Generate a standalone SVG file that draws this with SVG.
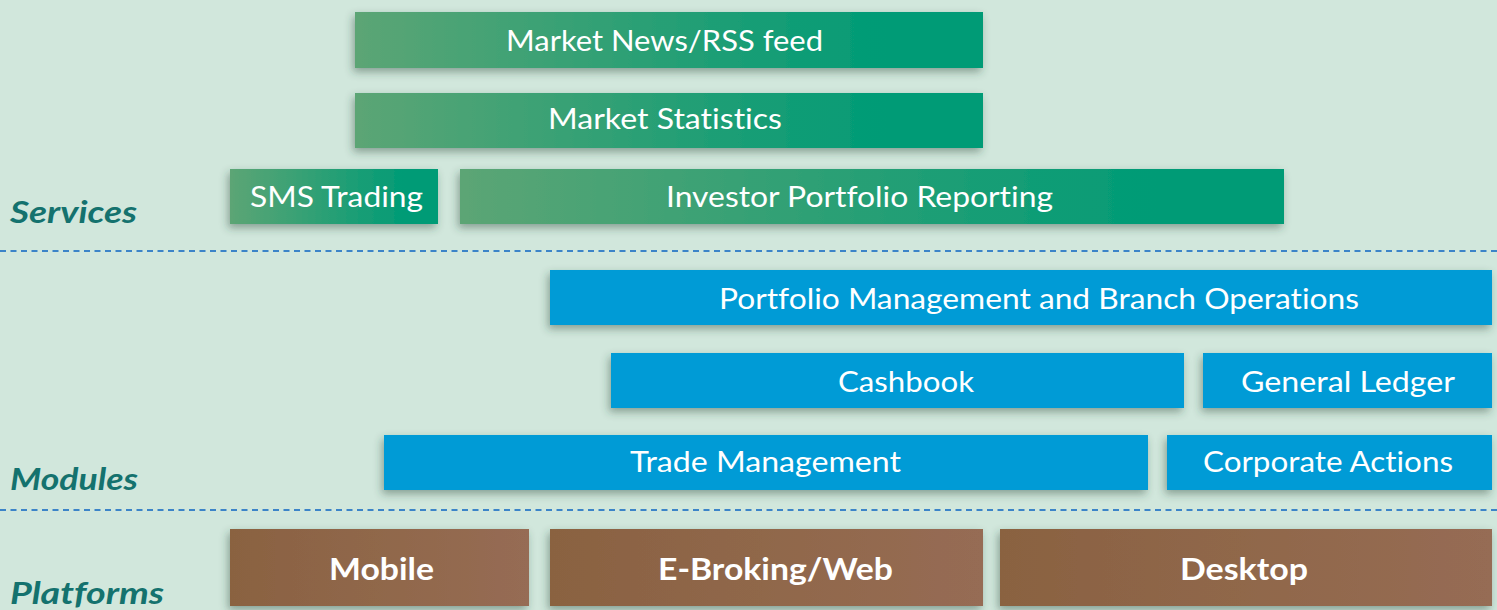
<svg xmlns="http://www.w3.org/2000/svg" width="1497" height="610" viewBox="0 0 1497 610">
<defs>
<linearGradient id="gGreen" x1="0" y1="0" x2="1" y2="0">
<stop offset="0" stop-color="#5ca574"/>
<stop offset="0.85" stop-color="#009b76"/>
<stop offset="1" stop-color="#009b76"/>
</linearGradient>
<linearGradient id="gBrown" x1="0" y1="0" x2="1" y2="0">
<stop offset="0" stop-color="#8a6241"/>
<stop offset="1" stop-color="#966c54"/>
</linearGradient>
<filter id="sh" x="-10%" y="-30%" width="120%" height="170%">
<feDropShadow dx="-2" dy="4" stdDeviation="4" flood-color="#2c4a3c" flood-opacity="0.45"/>
</filter>
<style>
text{font-variant-ligatures:none}
.g{fill:url(#gGreen);filter:url(#sh)}
.b{fill:#009bd6;filter:url(#sh)}
.br{fill:url(#gBrown);filter:url(#sh)}
.t{font-family:Lato,"Open Sans","Liberation Sans",sans-serif;font-size:29px;fill:#ffffff;text-anchor:middle}
.tb{font-family:Lato,"Open Sans","Liberation Sans",sans-serif;font-size:30px;font-weight:bold;fill:#ffffff;text-anchor:middle}
.lbl{font-family:Lato,"Open Sans","Liberation Sans",sans-serif;font-size:30px;font-weight:bold;font-style:italic;fill:#14726e}
.dash{stroke:#3b84c8;stroke-width:2;stroke-dasharray:6 4.5;fill:none}
</style>
</defs>
<rect width="1497" height="610" fill="#d1e7dc"/>
<g id="connectors">
<line class="dash" x1="0" y1="251" x2="1497" y2="251"/>
<line class="dash" x1="0" y1="510" x2="1497" y2="510"/>
</g>
<g id="label-services"><text class="lbl" x="10" y="223" textLength="127" lengthAdjust="spacingAndGlyphs">Services</text></g>
<g id="label-modules"><text class="lbl" x="10" y="490" textLength="128" lengthAdjust="spacingAndGlyphs">Modules</text></g>
<g id="label-platforms"><text class="lbl" x="10" y="604" textLength="154" lengthAdjust="spacingAndGlyphs">Platforms</text></g>

<g id="market-news"><rect class="g" x="355" y="12" width="628" height="56"/><text class="t" x="664.5" y="51" textLength="317" lengthAdjust="spacingAndGlyphs">Market News/RSS feed</text></g>
<g id="market-statistics"><rect class="g" x="355" y="93" width="628" height="55"/><text class="t" x="665" y="129" textLength="234" lengthAdjust="spacingAndGlyphs">Market Statistics</text></g>
<g id="sms-trading"><rect class="g" x="230" y="169" width="208" height="55"/><text class="t" x="336.5" y="207" textLength="173" lengthAdjust="spacingAndGlyphs">SMS Trading</text></g>
<g id="investor-portfolio"><rect class="g" x="460" y="169" width="824" height="55"/><text class="t" x="859.5" y="207" textLength="387" lengthAdjust="spacingAndGlyphs">Investor Portfolio Reporting</text></g>

<g id="portfolio-management"><rect class="b" x="550" y="270" width="942" height="55"/><text class="t" x="1039" y="309" textLength="640" lengthAdjust="spacingAndGlyphs">Portfolio Management and Branch Operations</text></g>
<g id="cashbook"><rect class="b" x="611" y="353" width="573" height="55"/><text class="t" x="906" y="392" textLength="136" lengthAdjust="spacingAndGlyphs">Cashbook</text></g>
<g id="general-ledger"><rect class="b" x="1203" y="353" width="289" height="55"/><text class="t" x="1348" y="392" textLength="214" lengthAdjust="spacingAndGlyphs">General Ledger</text></g>
<g id="trade-management"><rect class="b" x="384" y="435" width="764" height="55"/><text class="t" x="765.5" y="472" textLength="271" lengthAdjust="spacingAndGlyphs">Trade Management</text></g>
<g id="corporate-actions"><rect class="b" x="1167" y="435" width="325" height="55"/><text class="t" x="1328" y="472" textLength="250" lengthAdjust="spacingAndGlyphs">Corporate Actions</text></g>

<g id="mobile"><rect class="br" x="230" y="529" width="299" height="77"/><text class="tb" x="381.5" y="580" textLength="105" lengthAdjust="spacingAndGlyphs">Mobile</text></g>
<g id="e-broking"><rect class="br" x="550" y="529" width="433" height="77"/><text class="tb" x="775.5" y="580" textLength="235" lengthAdjust="spacingAndGlyphs">E-Broking/Web</text></g>
<g id="desktop"><rect class="br" x="1000" y="529" width="492" height="77"/><text class="tb" x="1244" y="580" textLength="128" lengthAdjust="spacingAndGlyphs">Desktop</text></g>
</svg>
